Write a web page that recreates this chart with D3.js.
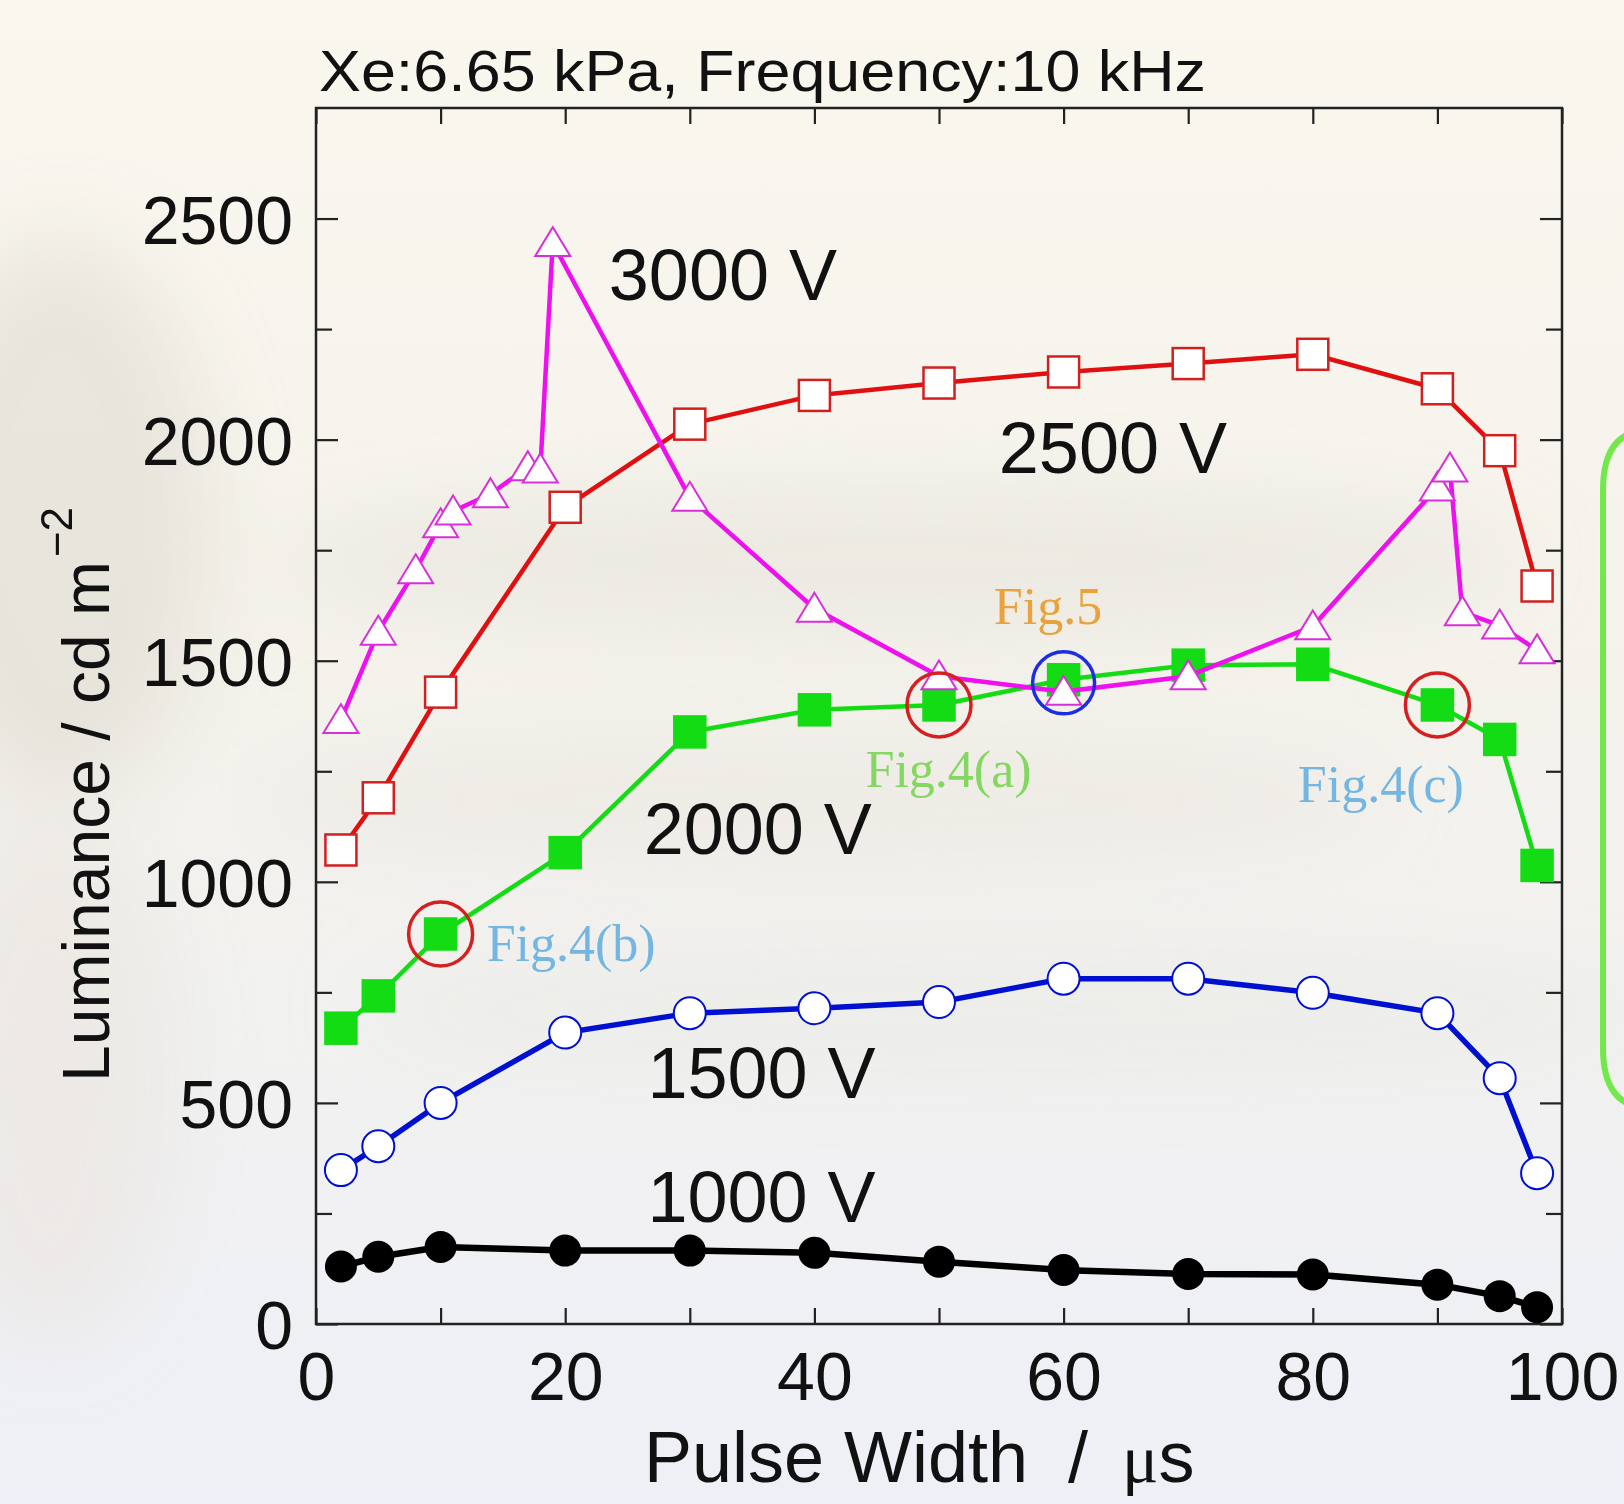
<!DOCTYPE html>
<html>
<head>
<meta charset="utf-8">
<script src="https://cdn.jsdelivr.net/npm/d3@7"></script>
<style>
  html, body { margin: 0; padding: 0; background: #f5f3ec; }
  svg { display: block; }
</style>
</head>
<body>
<div id="vis"></div>
<script>
const W = 1624;
const H = 1504;
const PLOT = { left: 316, right: 1562, top: 108, bottom: 1324 };

const SANS = "'Liberation Sans', Arial, sans-serif";
const SERIF = "'Liberation Serif', 'Times New Roman', serif";

// ############
// data
// ############
const pulseWidth = [2, 5, 10, 20, 30, 40, 50, 60, 70, 80, 90, 95, 98];
const pulseWidth3000 = [2, 5, 8, 10, 11, 14, 17, 18, 19, 30, 40, 50, 60, 70, 80, 90, 91, 92, 95, 98];

const lum1000 = [130, 152, 174, 166, 166, 161, 141, 122, 113, 112, 89, 63, 38];
const lum1500 = [348, 402, 500, 659, 703, 714, 728, 781, 781, 749, 703, 556, 341];
const lum2000 = [669, 742, 882, 1066, 1339, 1389, 1400, 1457, 1490, 1492, 1400, 1322, 1037];
const lum2500 = [1072, 1190, 1429, 1847, 2035, 2100, 2128, 2153, 2172, 2193, 2115, 1975, 1669];
const lum3000 = [1366, 1566, 1705, 1809, 1838, 1877, 1938, 1933, 2445, 1869, 1618, 1465, 1430, 1465, 1578, 1892, 1935, 1610, 1580, 1524];

const xTickLabels = [0, 20, 40, 60, 80, 100];
const xTicksAll = d3.range(0, 101, 10);
const yTickLabels = [0, 500, 1000, 1500, 2000, 2500];
const yTicksMinor = [250, 750, 1250, 1750, 2250];

const seriesLabels = ["3000 V", "2500 V", "2000 V", "1500 V", "1000 V"];
const seriesLabelPos = [[23.5, 2316], [54.8, 1924], [26.3, 1063], [26.6, 511], [26.6, 231]];

// Fig. markers: [pulse width, luminance on the 2000 V curve]
const figRingsRed = [[10, 882], [50, 1400], [90, 1400]];
const figRingsBlue = [[60, 1450]];
const figLabels = ["Fig.5", "Fig.4(a)", "Fig.4(b)", "Fig.4(c)"];
const figLabelPos = [[54.4, 1582], [44.1, 1214], [13.7, 821], [78.8, 1180]];
const figLabelColors = ["#e9a23c", "#84d862", "#74b6e2", "#74b6e2"];

// ############
// scales
// ############
const x = d3.scaleLinear().domain([0, 100]).range([PLOT.left, PLOT.right]);
const y = d3.scaleLinear().domain([0, 2750]).range([PLOT.bottom, PLOT.top]);

const svg = d3.select("#vis").append("svg")
  .attr("width", W).attr("height", H)
  .attr("viewBox", `0 0 ${W} ${H}`);

// ############
// faded background
// ############
const defs = svg.append("defs");
const bg = defs.append("linearGradient").attr("id", "bg")
  .attr("x1", 0).attr("y1", 0).attr("x2", 0).attr("y2", 1);
bg.append("stop").attr("offset", "0%").attr("stop-color", "#f9f7ee");
bg.append("stop").attr("offset", "45%").attr("stop-color", "#f4f2eb");
bg.append("stop").attr("offset", "100%").attr("stop-color", "#eef0f7");
defs.append("filter").attr("id", "blur")
  .attr("x", "-50%").attr("y", "-50%").attr("width", "200%").attr("height", "200%")
  .append("feGaussianBlur").attr("stdDeviation", 40);

svg.append("rect").attr("width", W).attr("height", H).attr("fill", "url(#bg)");

const haze = svg.append("g").attr("filter", "url(#blur)");
haze.append("ellipse").attr("cx", 60).attr("cy", 520).attr("rx", 150).attr("ry", 280)
  .attr("fill", "#dcd7ce").attr("opacity", 0.5);
haze.append("ellipse").attr("cx", 50).attr("cy", 1080).attr("rx", 120).attr("ry", 260)
  .attr("fill", "#e7dfda").attr("opacity", 0.45);
haze.append("ellipse").attr("cx", 900).attr("cy", 560).attr("rx", 620).attr("ry", 70)
  .attr("fill", "#e4e1d9").attr("opacity", 0.5);
haze.append("ellipse").attr("cx", 820).attr("cy", 800).attr("rx", 560).attr("ry", 55)
  .attr("fill", "#e6e3dc").attr("opacity", 0.45);
haze.append("ellipse").attr("cx", 1000).attr("cy", 1010).attr("rx", 640).attr("ry", 60)
  .attr("fill", "#e6e5e2").attr("opacity", 0.4);

// green bracket at the right edge
svg.append("path")
  .attr("d", "M1650,430 Q1603,430 1603,490 L1603,1048 Q1603,1108 1650,1108")
  .attr("fill", "none").attr("stroke", "#72e84a").attr("stroke-width", 6);

// ############
// axes
// ############
const axisG = svg.append("g").attr("font-family", SANS);

function styleAxis(g) {
  g.select(".domain").remove();
  g.selectAll(".tick line").attr("stroke", "#222").attr("stroke-width", 2.2);
  g.selectAll(".tick text").attr("fill", "#111").attr("font-family", SANS);
}

// left, labelled
axisG.append("g").attr("transform", `translate(${PLOT.left},0)`)
  .call(d3.axisLeft(y).tickValues(yTickLabels).tickSizeInner(-22).tickSizeOuter(0)
    .tickPadding(23).tickFormat(d3.format("d")))
  .call(styleAxis)
  .call(g => g.selectAll(".tick text").attr("font-size", 68).attr("dy", "0.36em"));
axisG.append("g").attr("transform", `translate(${PLOT.left},0)`)
  .call(d3.axisLeft(y).tickValues(yTicksMinor).tickSizeInner(-16).tickSizeOuter(0).tickFormat(""))
  .call(styleAxis);
// right
axisG.append("g").attr("transform", `translate(${PLOT.right},0)`)
  .call(d3.axisRight(y).tickValues(yTickLabels).tickSizeInner(-22).tickSizeOuter(0).tickFormat(""))
  .call(styleAxis);
axisG.append("g").attr("transform", `translate(${PLOT.right},0)`)
  .call(d3.axisRight(y).tickValues(yTicksMinor).tickSizeInner(-16).tickSizeOuter(0).tickFormat(""))
  .call(styleAxis);
// bottom, labelled
axisG.append("g").attr("transform", `translate(0,${PLOT.bottom})`)
  .call(d3.axisBottom(x).tickValues(xTicksAll).tickSizeInner(-16).tickSizeOuter(0)
    .tickPadding(28).tickFormat(d => xTickLabels.includes(d) ? d : ""))
  .call(styleAxis)
  .call(g => g.selectAll(".tick text").attr("font-size", 68));
// top
axisG.append("g").attr("transform", `translate(0,${PLOT.top})`)
  .call(d3.axisTop(x).tickValues(xTicksAll).tickSizeInner(-16).tickSizeOuter(0).tickFormat(""))
  .call(styleAxis);

// frame
svg.append("rect")
  .attr("x", PLOT.left).attr("y", PLOT.top)
  .attr("width", PLOT.right - PLOT.left).attr("height", PLOT.bottom - PLOT.top)
  .attr("fill", "none").attr("stroke", "#222").attr("stroke-width", 2.5);

// titles
svg.append("text")
  .attr("x", 319).attr("y", 91)
  .attr("font-family", SANS).attr("font-size", 58).attr("fill", "#111")
  .attr("textLength", 887).attr("lengthAdjust", "spacingAndGlyphs")
  .text("Xe:6.65 kPa, Frequency:10 kHz");

const xt = svg.append("text")
  .attr("y", 1482)
  .attr("font-family", SANS).attr("font-size", 72).attr("fill", "#111");
xt.append("tspan").attr("x", 644).text("Pulse Width");
xt.append("tspan").attr("x", 1068).text("/");
xt.append("tspan").attr("x", 1122).attr("font-family", SERIF).attr("font-size", 68).text("\u03bc");
xt.append("tspan").text("s");

const yt = svg.append("text")
  .attr("transform", "translate(109,1082) rotate(-90)")
  .attr("font-family", SANS).attr("font-size", 66).attr("fill", "#111");
yt.append("tspan").text("Luminance / cd m");
yt.append("tspan").attr("font-size", 44).attr("dx", 4).attr("dy", -37).text("\u22122");

// ############
// series
// ############
const line = d3.line().x(d => x(d[0])).y(d => y(d[1]));
const zip = (xs, ys) => xs.map((v, i) => [v, ys[i]]);

const series = [
  { data: zip(pulseWidth, lum1000), color: "#000", width: 6.5, shape: "circle", fill: "#000", stroke: "#000", size: 15 },
  { data: zip(pulseWidth, lum1500), color: "#0010d0", width: 5.5, shape: "circle", fill: "#fff", stroke: "#0010d0", size: 16 },
  { data: zip(pulseWidth, lum2000), color: "#14dc14", width: 4.5, shape: "square", fill: "#14dc14", stroke: "#14dc14", size: 15.5 },
  { data: zip(pulseWidth, lum2500), color: "#e01010", width: 4.5, shape: "square", fill: "#fff", stroke: "#d02020", size: 15.5 },
  { data: zip(pulseWidth3000, lum3000), color: "#ee10ee", width: 4.5, shape: "triangle", fill: "#fff", stroke: "#d830d8", size: 17.5 }
];

const seriesG = svg.append("g");
series.forEach(s => {
  const g = seriesG.append("g");
  g.append("path").datum(s.data)
    .attr("d", line).attr("fill", "none")
    .attr("stroke", s.color).attr("stroke-width", s.width)
    .attr("stroke-linejoin", "round");
  const pts = g.selectAll(".pt").data(s.data).join("g")
    .attr("class", "pt")
    .attr("transform", d => `translate(${x(d[0])},${y(d[1])})`);
  if (s.shape === "circle") {
    pts.append("circle").attr("r", s.size)
      .attr("fill", s.fill).attr("stroke", s.stroke).attr("stroke-width", 2);
  } else if (s.shape === "square") {
    pts.append("rect").attr("x", -s.size).attr("y", -s.size)
      .attr("width", s.size * 2).attr("height", s.size * 2)
      .attr("fill", s.fill).attr("stroke", s.stroke).attr("stroke-width", 2.5);
  } else {
    const r = s.size;
    pts.append("path").attr("d", `M0,${-r * 0.9} L${r},${r * 0.75} L${-r},${r * 0.75} Z`)
      .attr("fill", s.fill).attr("stroke", s.stroke).attr("stroke-width", 2);
  }
});

// rings around the points shown in Fig.4 / Fig.5
svg.append("g").selectAll("circle").data(figRingsRed).join("circle")
  .attr("cx", d => x(d[0])).attr("cy", d => y(d[1])).attr("r", 32)
  .attr("fill", "none").attr("stroke", "#d42020").attr("stroke-width", 3.5);
svg.append("g").selectAll("circle").data(figRingsBlue).join("circle")
  .attr("cx", d => x(d[0])).attr("cy", d => y(d[1])).attr("r", 31)
  .attr("fill", "none").attr("stroke", "#1c2ee0").attr("stroke-width", 3.5);

// series labels
svg.append("g").selectAll("text").data(seriesLabels).join("text")
  .attr("x", (d, i) => x(seriesLabelPos[i][0]))
  .attr("y", (d, i) => y(seriesLabelPos[i][1]))
  .attr("font-family", SANS).attr("font-size", 72).attr("fill", "#111")
  .text(d => d);

// Fig labels
svg.append("g").selectAll("text").data(figLabels).join("text")
  .attr("x", (d, i) => x(figLabelPos[i][0]))
  .attr("y", (d, i) => y(figLabelPos[i][1]))
  .attr("font-family", SERIF).attr("font-size", 52)
  .attr("fill", (d, i) => figLabelColors[i])
  .text(d => d);
</script>
</body>
</html>
